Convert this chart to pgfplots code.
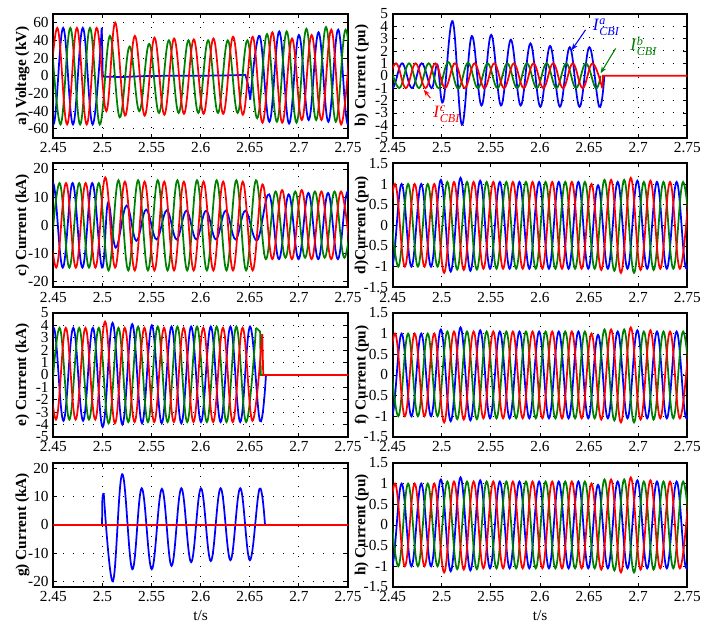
\documentclass[border=0pt]{standalone}
\usepackage{amsmath}
\usepackage{fontspec}
\setmainfont{Liberation Serif}
\usepackage{pgfplots}
\pgfplotsset{compat=1.18}
\usepackage{pgfplotstable}
\usetikzlibrary{arrows.meta}

\definecolor{mblue}{RGB}{0,0,255}
\definecolor{mgreen}{RGB}{0,128,0}
\definecolor{mred}{RGB}{255,0,0}

% peaks and troughs of the three phase currents, panels d), f), h)
\pgfplotstableread{
t y
2.4391 1
2.4491 -1
2.4591 1
2.4691 -1
2.4791 1
2.4891 -1
2.4991 1.1
2.5091 -1.12
2.5191 1.15
2.5291 -1.1
2.5391 1.08
2.5491 -1.05
2.5591 1.05
2.5691 -1.05
2.5791 1.05
2.5891 -1.05
2.5991 1.05
2.6091 -1.05
2.6191 1.05
2.6291 -1.05
2.6391 1.05
2.6491 -1.05
2.6591 0.97
2.6691 -1.05
2.6791 1.05
2.6891 -1.05
2.6991 1.08
2.7091 -1.05
2.7191 1.05
2.7291 -1.05
2.7391 1.05
2.7491 -1.05
2.7591 1.05
}\dblue
\pgfplotstableread{
t y
2.4457 1
2.4557 -1
2.4657 1
2.4757 -1
2.4857 1
2.4957 -1
2.5057 1.05
2.5157 -1.07
2.5257 1.05
2.5357 -1.07
2.5457 1.05
2.5557 -1.05
2.5657 1.05
2.5757 -1.05
2.5857 1.05
2.5957 -1.05
2.6057 1.05
2.6157 -1.05
2.6257 1.05
2.6357 -1.05
2.6457 1.05
2.6557 -1.05
2.6657 1.1
2.6757 -1.1
2.6857 1.1
2.6957 -1.15
2.7057 1.05
2.7157 -1.08
2.7257 1.05
2.7357 -1.05
2.7457 1.05
2.7557 -1.05
}\dgreen
\pgfplotstableread{
t y
2.4424 -1
2.4524 1
2.4624 -1
2.4724 1
2.4824 -1
2.4924 1
2.5024 -1.15
2.5124 1.05
2.5224 -1.08
2.5324 1.05
2.5424 -1.05
2.5524 1.05
2.5624 -1.05
2.5724 1.05
2.5824 -1.05
2.5924 1.05
2.6024 -1.05
2.6124 1.05
2.6224 -1.05
2.6324 1.05
2.6424 -1.05
2.6524 1.0
2.6624 -1.08
2.6724 1.1
2.6824 -1.15
2.6924 1.15
2.7024 -1.08
2.7124 1.08
2.7224 -1.05
2.7324 1.05
2.7424 -1.05
2.7524 1.05
}\dred

\pgfplotsset{
  panel/.style={
    width=221pt, height=93pt, scale only axis,
    xmin=2.45, xmax=2.75,
    xtick={2.45,2.5,2.55,2.6,2.65,2.7,2.75},
    grid=major,
    major grid style={black, line width=0.7pt, dash pattern=on 0.7pt off 6.8pt},
    axis line style={line width=1.5pt},
    tick align=inside, major tick length=3pt,
    tick style={black, line width=0.6pt},
    tick label style={font=\fontsize{11.5}{13}\selectfont},
    /pgf/number format/assume math mode=true,
    scaled ticks=false,
    every axis y label/.style={at={(axis description cs:-0.105,0.5)}, rotate=90,
      anchor=center, font=\fontsize{11.5}{13}\selectfont\bfseries},
    every axis x label/.style={at={(axis description cs:0.5,-0.15)}, anchor=north,
      font=\fontsize{11.5}{13}\selectfont},
    every axis plot/.append style={line width=1.3pt, tension=0.65},
  },
  pu/.style={ymin=-1.5, ymax=1.5, ytick={-1.5,-1,-0.5,0,0.5,1,1.5}},
}

\begin{document}
\begin{tikzpicture}
\path[use as bounding box] (0,0) rectangle (526.5pt,-468pt);

% a) voltage
\begin{axis}[panel, at={(40pt,-10.3pt)}, anchor=north west,
  ymin=-70, ymax=70, ytick={-60,-40,-20,0,20,40,60}, ylabel={a) Voltage (kV)}]
\addplot[mblue, smooth] coordinates {(2.44,54)(2.45,-55)(2.46,54)(2.47,-55)(2.48,54)(2.49,-55)(2.4993,54)};
\addplot[mblue] coordinates {(2.4993,54)(2.5003,-1)(2.52,-1.5)(2.54,-0.5)(2.57,0)(2.60,0)(2.625,0.3)(2.6455,1)(2.6478,-8)(2.6505,-27)};
\addplot[mblue, smooth] coordinates {(2.6505,-27)(2.660,45)(2.670,-52)(2.680,50)(2.690,-54)(2.700,46)(2.710,-50)(2.720,49)(2.730,-52)(2.740,52)(2.750,-55)(2.760,52)};
\addplot[mgreen, smooth] coordinates {(2.4473,54)(2.4573,-55)(2.4673,54)(2.4773,-55)(2.4873,54)(2.4973,-55)(2.5076,45)(2.5176,-47)(2.5276,33)(2.5376,-40)(2.5476,36)(2.5576,-42)(2.5676,40)(2.5776,-42)(2.5876,40)(2.5976,-42)(2.6076,40)(2.6176,-42)(2.6276,40)(2.6376,-42)(2.6476,40)(2.6576,-48)(2.6676,47)(2.6776,-52)(2.6876,50)(2.6976,-53)(2.7076,53)(2.7176,-50)(2.7276,55)(2.7376,-52)(2.7476,52)(2.7576,-52)};
\addplot[mred, smooth] coordinates {(2.444,-55)(2.454,54)(2.464,-55)(2.474,54)(2.484,-55)(2.494,54)(2.504,-40)(2.513,60)(2.523,-45)(2.533,45)(2.543,-45)(2.553,43)(2.563,-44)(2.573,42)(2.583,-43)(2.593,41)(2.603,-43)(2.613,42)(2.623,-43)(2.633,44)(2.643,-44)(2.653,44)(2.663,-53)(2.673,49)(2.683,-53)(2.693,42)(2.703,-50)(2.713,46)(2.723,-50)(2.733,52)(2.743,-55)(2.753,50)};
\end{axis}

% b) breaker currents
\begin{axis}[panel, at={(294.5pt,-10.3pt)}, anchor=north west,
  ymin=-5, ymax=5, ytick={-5,-4,...,5}, ylabel={b) Current (pu)}]
\addplot[mblue, smooth] coordinates {(2.4396,1)(2.4496,-1)(2.4596,1)(2.4696,-1)(2.4796,1)(2.4896,-1)(2.4955,0.9)(2.5014,-2.1)(2.511,4.4)(2.5205,-3.95)(2.5305,3.2)(2.5405,-2.4)(2.5503,3.3)(2.5603,-2.4)(2.5703,2.9)(2.5803,-2.4)(2.5903,2.6)(2.6003,-2.5)(2.6103,2.4)(2.6203,-2.5)(2.6303,2.3)(2.6403,-2.5)(2.6503,2.3)(2.6603,-2.5)(2.6655,0)};
\addplot[mgreen, smooth] coordinates {(2.4467,1)(2.4567,-1)(2.4667,1)(2.4767,-1)(2.4867,1)(2.4967,-1)(2.5067,1.1)(2.5167,-1.05)(2.5267,1.05)(2.5367,-1)(2.5467,1)(2.5567,-1)(2.5667,1)(2.5767,-1)(2.5867,1)(2.5967,-1)(2.6067,1)(2.6167,-1)(2.6267,1)(2.6367,-1)(2.6467,1)(2.6567,-1)(2.6617,0)};
\addplot[mred, smooth] coordinates {(2.4434,-1)(2.4534,1)(2.4634,-1)(2.4734,1)(2.4834,-1)(2.4934,1)(2.5034,-1)(2.5134,1)(2.5234,-1)(2.5334,1)(2.5434,-1)(2.5534,1)(2.5634,-1)(2.5734,1)(2.5834,-1)(2.5934,1)(2.6034,-1)(2.6134,1)(2.6234,-1)(2.6334,1)(2.6434,-1)(2.6534,1)(2.6634,-1)};
\addplot[mred] coordinates {(2.6634,-1)(2.6642,0)(2.76,0)};
\node[mblue, anchor=west, font=\fontsize{13}{15}\selectfont] at (axis cs:2.649,3.94) {\textit{I}$^{\textit{a}}_{\textit{CBI}}$};
\draw[mblue, line width=0.8pt, -{Stealth[length=5pt]}] (axis cs:2.6464,3.7) -- (axis cs:2.6322,2.06);
\node[mgreen, anchor=west, font=\fontsize{13}{15}\selectfont] at (axis cs:2.6872,2.38) {\textit{I}$^{\textit{b}}_{\textit{CBI}}$};
\draw[mgreen, line width=0.8pt, -{Stealth[length=5pt]}] (axis cs:2.677,2.2) -- (axis cs:2.6617,0.2);
\node[mred, anchor=west, font=\fontsize{13}{15}\selectfont] at (axis cs:2.4867,-3.13) {\textit{I}$^{\textit{c}}_{\textit{CBI}}$};
\draw[mred, line width=0.8pt, -{Stealth[length=5pt]}] (axis cs:2.4884,-1.8) -- (axis cs:2.4816,-1.13);
\end{axis}

% c)
\begin{axis}[panel, at={(40pt,-122.5pt)}, anchor=north west,
  ymin=-22, ymax=22, ytick={-20,-10,0,10,20}, ylabel={c) Current (kA)}]
\addplot[mblue, smooth] coordinates {(2.4396,-15)(2.4496,15)(2.4596,-15)(2.4696,15)(2.4796,-15)(2.4896,15)(2.4996,-15)(2.5057,8)(2.5136,-7.9)(2.5245,7)(2.5345,-5.5)(2.5445,5.6)(2.555,-5)(2.5655,5.3)(2.5755,-5)(2.5855,5.2)(2.5955,-5)(2.6055,5.2)(2.6155,-5)(2.6255,5.2)(2.6355,-5)(2.6455,5.2)(2.6575,-5.3)(2.6697,11)(2.6797,-12)(2.6897,11)(2.6997,-12)(2.7097,11.5)(2.7197,-12)(2.7297,11.5)(2.7397,-12)(2.7497,12)(2.7597,-12)};
\addplot[mgreen, smooth] coordinates {(2.4463,-15)(2.4563,15)(2.4663,-15)(2.4763,15)(2.4863,-15)(2.4963,15)(2.5063,-16)(2.5163,16)(2.5263,-16)(2.5363,16)(2.5463,-16)(2.5563,16)(2.5663,-16)(2.5763,16)(2.5863,-16)(2.5963,16)(2.6063,-16)(2.6163,16)(2.6263,-16)(2.6363,16)(2.6463,-16)(2.6563,16)(2.6663,-12)(2.6763,12)(2.6863,-11.5)(2.6963,12)(2.7063,-11.5)(2.7163,12)(2.7263,-11.5)(2.7363,12)(2.7463,-11.5)(2.7563,12)};
\addplot[mred, smooth] coordinates {(2.4429,15)(2.4529,-15)(2.4629,15)(2.4729,-15)(2.4829,15)(2.4929,-15)(2.5029,17)(2.5129,-15)(2.5229,15.5)(2.5329,-16)(2.5429,15.5)(2.5529,-16)(2.5629,15.5)(2.5729,-16)(2.5829,15.5)(2.5929,-16)(2.6029,15.5)(2.6129,-16)(2.6229,15.5)(2.6329,-16)(2.6429,15.5)(2.6529,-16)(2.6629,14.5)(2.6729,-12)(2.6829,12.5)(2.6929,-12)(2.7029,12.5)(2.7129,-12)(2.7229,12)(2.7329,-12)(2.7429,12)(2.7529,-12)};
\end{axis}

% d)
\begin{axis}[panel, pu, at={(294.5pt,-122.5pt)}, anchor=north west, ylabel={d)Current (pu)}]
\addplot[mblue, smooth] table[x=t, y=y] {\dblue};
\addplot[mgreen, smooth] table[x=t, y=y] {\dgreen};
\addplot[mred, smooth] table[x=t, y=y] {\dred};
\end{axis}

% e)
\begin{axis}[panel, at={(40pt,-234.7pt)}, anchor=north west,
  ymin=-5, ymax=5, ytick={-5,-4,...,5}, ylabel={e) Current (kA)}]
\addplot[mblue, smooth] coordinates {(2.4403,-3.7)(2.4503,3.8)(2.4603,-3.7)(2.4703,3.8)(2.4803,-3.7)(2.4903,3.8)(2.5003,-4.2)(2.5103,4.2)(2.5203,-4)(2.5303,4.1)(2.5403,-3.9)(2.5503,4)(2.5603,-3.9)(2.5703,3.9)(2.5803,-3.9)(2.5903,3.9)(2.6003,-3.8)(2.6103,3.9)(2.6203,-3.8)(2.6303,3.9)(2.6403,-3.8)(2.6503,3.9)(2.6603,-3.7)(2.6665,0)};
\addplot[mblue] coordinates {(2.6665,0)(2.76,0)};
\addplot[mgreen, smooth] coordinates {(2.4463,-3.6)(2.4563,3.8)(2.4663,-3.6)(2.4763,3.8)(2.4863,-3.6)(2.4963,3.8)(2.5063,-3.9)(2.5163,3.8)(2.5263,-3.8)(2.5363,3.9)(2.5463,-3.8)(2.5563,3.9)(2.5663,-3.8)(2.5763,3.9)(2.5863,-3.8)(2.5963,3.9)(2.6063,-3.8)(2.6163,3.9)(2.6263,-3.8)(2.6363,3.9)(2.6463,-3.8)(2.6563,3.8)};
\addplot[mgreen] coordinates {(2.6563,3.8)(2.6605,3.5)(2.6612,0)(2.76,0)};
\addplot[mred, smooth] coordinates {(2.4427,3.8)(2.4527,-3.6)(2.4627,3.8)(2.4727,-3.6)(2.4827,3.8)(2.4927,-3.6)(2.5027,4.3)(2.5127,-3.9)(2.5227,3.8)(2.5327,-3.8)(2.5427,3.8)(2.5527,-3.8)(2.5627,3.8)(2.5727,-3.8)(2.5827,3.8)(2.5927,-3.8)(2.6027,3.8)(2.6127,-3.8)(2.6227,3.8)(2.6327,-3.8)(2.6427,3.8)(2.6527,-3.7)(2.6627,3.3)};
\addplot[mred] coordinates {(2.6627,3.3)(2.6637,0)(2.76,0)};
\end{axis}

% f)
\begin{axis}[panel, pu, at={(294.5pt,-234.7pt)}, anchor=north west, ylabel={f) Current (pu)}]
\addplot[mblue, smooth] table[x=t, y=y] {\dblue};
\addplot[mgreen, smooth] table[x=t, y=y] {\dgreen};
\addplot[mred, smooth] table[x=t, y=y] {\dred};
\end{axis}

% g)
\begin{axis}[panel, at={(40pt,-347.2pt)}, anchor=north west,
  ymin=-22, ymax=22, ytick={-20,-10,0,10,20}, ylabel={g) Current (kA)}, xlabel={t/s}]
\addplot[mblue] coordinates {(2.4996,0)(2.4998,8)(2.5003,10.5)(2.5013,11.3)};
\addplot[mblue, smooth] coordinates {(2.5013,11.3)(2.5106,-20)(2.5201,18)(2.5304,-15.7)(2.54,13)(2.5502,-15.7)(2.5605,12.8)(2.5704,-14.5)(2.5803,13)(2.5903,-13.2)(2.6003,13)(2.6103,-12.8)(2.6203,13)(2.6303,-12.5)(2.6403,13)(2.6501,-12.5)(2.6599,12.8)(2.6655,0)};
\addplot[mred, line width=2pt] coordinates {(2.44,0)(2.76,0)};
\end{axis}

% h)
\begin{axis}[panel, pu, at={(294.5pt,-347.2pt)}, anchor=north west, ylabel={h) Current (pu)}, xlabel={t/s}]
\addplot[mblue, smooth] table[x=t, y=y] {\dblue};
\addplot[mgreen, smooth] table[x=t, y=y] {\dgreen};
\addplot[mred, smooth] table[x=t, y=y] {\dred};
\end{axis}
\end{tikzpicture}
\end{document}
